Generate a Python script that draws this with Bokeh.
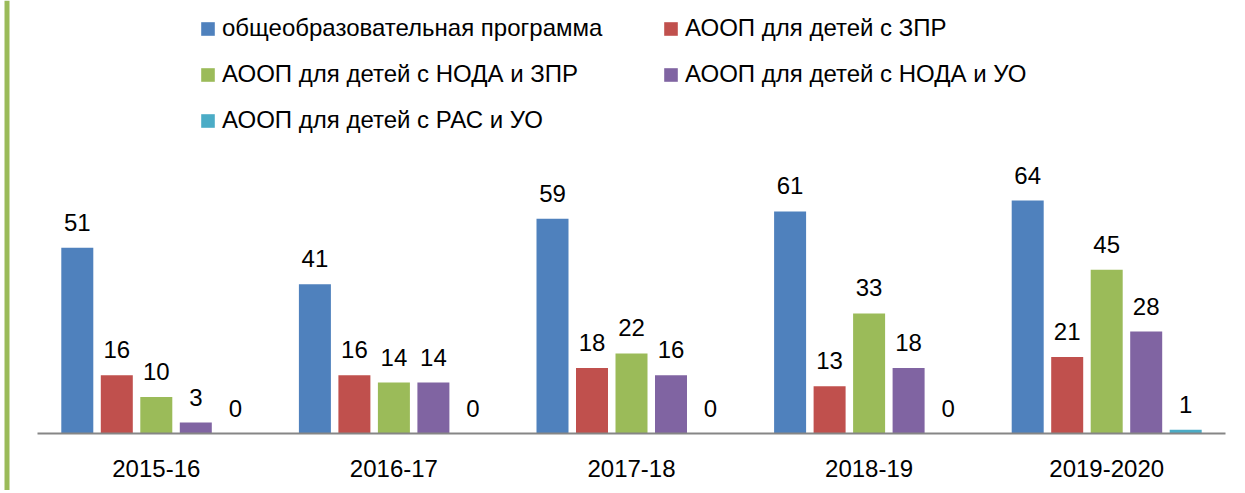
from bokeh.plotting import figure
from bokeh.models import ColumnDataSource, Range1d, Legend, LegendItem, Span
from bokeh.embed import file_html
from bokeh.resources import INLINE
from bokeh.core.properties import value

years = ["2015-16", "2016-17", "2017-18", "2018-19", "2019-2020"]
series_names = [
    "общеобразовательная программа",
    "АООП для детей с ЗПР",
    "АООП для детей с НОДА и ЗПР",
    "АООП для детей с НОДА и УО",
    "АООП для детей с РАС и УО",
]
general = [51, 41, 59, 61, 64]
zpr = [16, 16, 18, 13, 21]
noda_zpr = [10, 14, 22, 33, 45]
noda_uo = [3, 14, 16, 18, 28]
ras_uo = [0, 0, 0, 0, 1]
series_values = [general, zpr, noda_zpr, noda_uo, ras_uo]
colors = ["#4f81bd", "#c0504d", "#9bbb59", "#8064a2", "#4bacc6"]

FONT = "Liberation Sans"
W, H = 1237, 490
cat_px = 237.6
base_px = 433
frame_left_off = 37
x0 = -0.5 - frame_left_off / cat_px
x1 = x0 + W / cat_px
px_per_unit = 3.64

p = figure(width=W, height=H, output_backend="svg", toolbar_location=None,
           x_range=Range1d(x0, x1),
           y_range=Range1d(-(H - base_px) / px_per_unit, base_px / px_per_unit),
           min_border_left=0, min_border_right=0, min_border_top=0, min_border_bottom=0)
p.outline_line_color = None
p.grid.visible = False
p.axis.visible = False
p.background_fill_color = "white"

step = 39.5 / cat_px
bw = 32 / cat_px
items = []
for k, (name, vals, col) in enumerate(zip(series_names, series_values, colors)):
    xs = [i + (k - 2) * step for i in range(len(years))]
    src = ColumnDataSource(dict(x=xs, top=vals, lab=[str(v) for v in vals]))
    r = p.vbar(x="x", top="top", bottom=0, width=bw, source=src, fill_color=col, line_color=None)
    p.text(x="x", y="top", text="lab", source=src, text_align="center", text_baseline="bottom",
           y_offset=-17, text_font=value(FONT), text_font_size="24px", text_color="#000000")
    items.append(LegendItem(label=name, renderers=[r]))

# category labels
cat_src = ColumnDataSource(dict(x=list(range(len(years))), y=[0] * len(years), lab=years))
p.text(x="x", y="y", text="lab", source=cat_src, text_align="center", text_baseline="middle",
       y_offset=35, text_font=value(FONT), text_font_size="24px", text_color="#000000")

# baseline
p.segment(x0=[-0.5], y0=[0], x1=[len(years) - 0.5], y1=[0], line_color="#868686", line_width=2)

# left green border
p.add_layout(Span(location=x0 + 6.5 / cat_px, dimension="height", line_color="#9bbb59", line_width=5))

legend = Legend(items=items, location=(199, H - 134), orientation="horizontal", ncols=2,
                glyph_width=17, glyph_height=17, label_standoff=6, spacing=18,
                label_text_font=FONT, label_text_font_size="24px", label_height=20,
                label_width=422,
                padding=0, margin=0, border_line_color=None, background_fill_alpha=0,
                label_text_color="#000000")
p.add_layout(legend)

open("out.html", "w").write(file_html(p, INLINE))
